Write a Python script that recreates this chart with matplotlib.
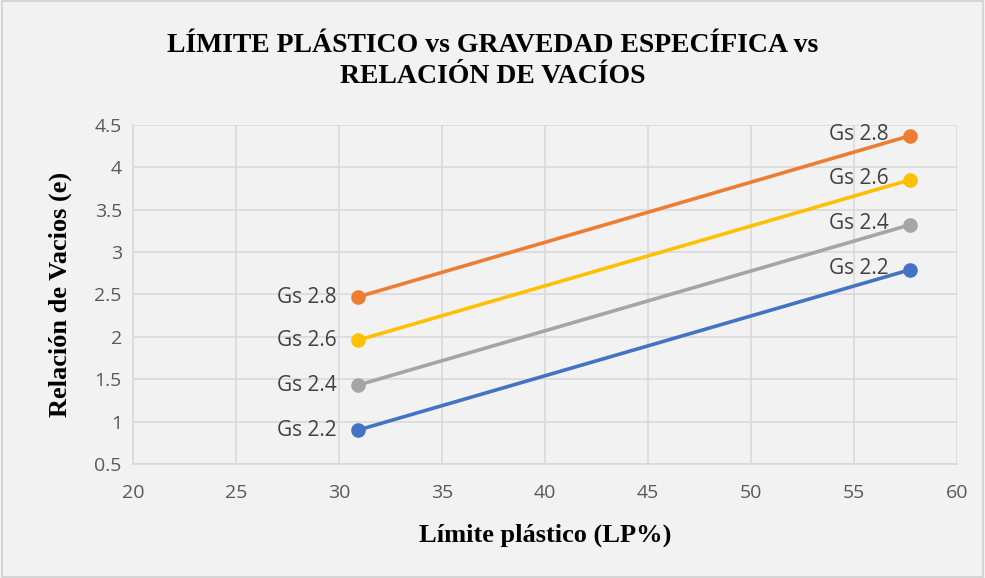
import matplotlib.pyplot as plt
from matplotlib.patches import Rectangle

# Data
lp = [30.9, 57.7]
series = ['Gs 2.2', 'Gs 2.4', 'Gs 2.6', 'Gs 2.8']
e_values = [
    [0.90, 2.79],
    [1.43, 3.32],
    [1.96, 3.85],
    [2.47, 4.37],
]
colors = ['#4472C4', '#A5A5A5', '#FFC000', '#ED7D31']
x_ticks = [20, 25, 30, 35, 40, 45, 50, 55, 60]
y_ticks = [0.5, 1, 1.5, 2, 2.5, 3, 3.5, 4, 4.5]

fig = plt.figure(figsize=(9.85, 5.78), dpi=100, facecolor='#F2F2F2')
fig.patches.append(Rectangle((0.002, 0.002), 0.996, 0.996, transform=fig.transFigure,
                             fill=False, edgecolor='#D0D0D0', linewidth=1.2))
ax = fig.add_axes([0.135, 0.197, 0.8365, 0.587])
ax.set_facecolor('#F2F2F2')

for name, vals, c in zip(series, e_values, colors):
    ax.plot(lp, vals, color=c, linewidth=2.6, marker='o', markersize=9.5, zorder=3)
    ax.annotate(name, (lp[0], vals[0]), xytext=(-15, 0), textcoords='offset points',
                ha='right', va='center', fontsize=15, color='#404040', family='Open Sans')
    ax.annotate(name, (lp[1], vals[1]), xytext=(-15, 1), textcoords='offset points',
                ha='right', va='center', fontsize=15, color='#404040', family='Open Sans')

ax.set_xlim(20, 60)
ax.set_ylim(0.5, 4.5)
ax.set_xticks(x_ticks)
ax.set_yticks(y_ticks)
ax.set_yticklabels([f'{t:g}' for t in y_ticks])
ax.grid(True, color='#D9D9D9', linewidth=1.2)
ax.set_axisbelow(True)
for s in ['top', 'right']:
    ax.spines[s].set_visible(False)
for s in ['left', 'bottom']:
    ax.spines[s].set_color('#D9D9D9')
    ax.spines[s].set_linewidth(1.2)
ax.tick_params(length=0, labelsize=14, colors='#595959')
ax.tick_params(axis='x', pad=14)
ax.tick_params(axis='y', pad=8)
for lab in ax.get_xticklabels() + ax.get_yticklabels():
    lab.set_family('Open Sans')

ax.set_xlabel('Límite plástico (LP%)', fontsize=19, fontweight='bold',
              family='Liberation Serif', labelpad=16)
ax.set_ylabel('Relación de Vacios (e)', fontsize=19, fontweight='bold',
              family='Liberation Serif', labelpad=16)
fig.text(0.5, 0.895, 'LÍMITE PLÁSTICO vs GRAVEDAD ESPECÍFICA vs\nRELACIÓN DE VACÍOS',
         ha='center', va='center', fontsize=20, fontweight='bold',
         family='Liberation Serif', linespacing=1.3)

fig.savefig('out.png', dpi=100, facecolor=fig.get_facecolor())
